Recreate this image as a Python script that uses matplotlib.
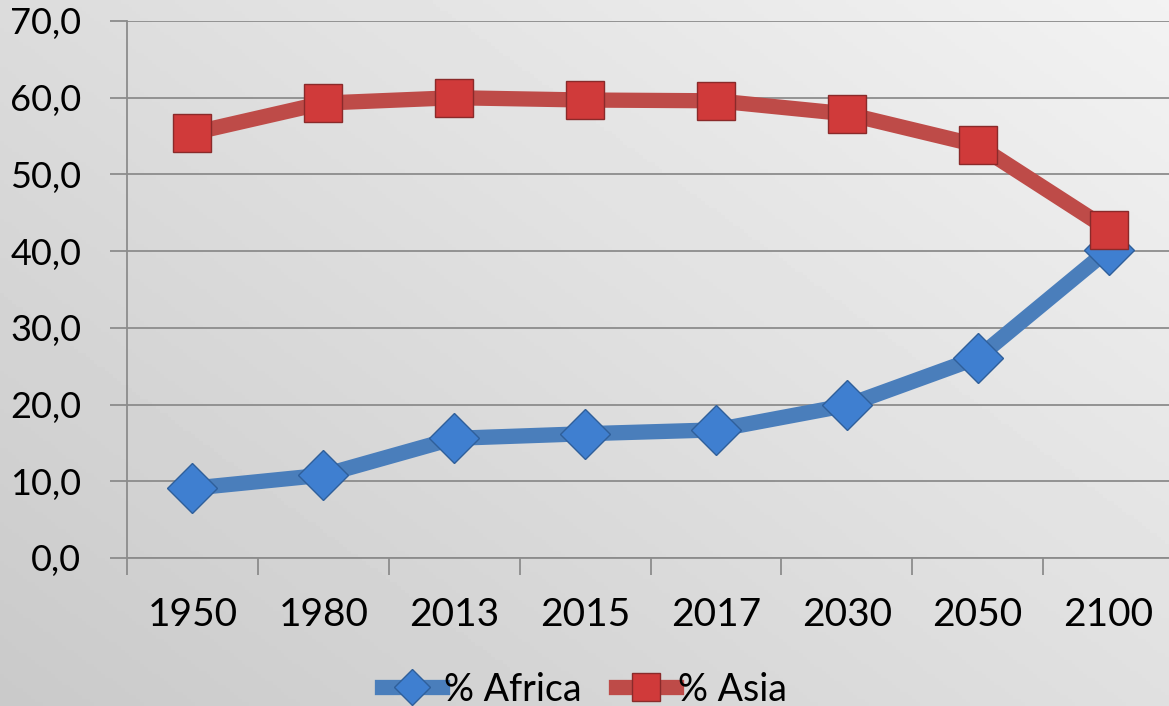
import matplotlib.pyplot as plt
import numpy as np
from matplotlib.ticker import FuncFormatter, MultipleLocator

# --- data ------------------------------------------------------------
YEARS = ["1950", "1980", "2013", "2015", "2017", "2030", "2050", "2100"]
AFRICA = [9.1, 10.8, 15.6, 16.2, 16.7, 19.9, 26.1, 40.2]
ASIA = [55.4, 59.3, 60.0, 59.7, 59.6, 57.9, 53.8, 42.8]

BLUE = "#4a7ebb"
RED = "#be4b48"

plt.rcParams["font.family"] = ["Lato", "DejaVu Sans"]

fig = plt.figure(figsize=(11.69, 7.06), dpi=100)

# grey gradient background, lighter towards the upper right
bg = fig.add_axes([0, 0, 1, 1], zorder=-10)
yy, xx = np.mgrid[0:1:200j, 0:1:300j]
shade = 0.79 + 0.16 * (0.55 * xx + 0.45 * (1 - yy))
bg.imshow(shade, cmap="gray", vmin=0, vmax=1, extent=[0, 1, 0, 1],
          aspect="auto", origin="upper")
bg.set_axis_off()

ax = fig.add_axes([127 / 1169, 1 - 558 / 706, 1047 / 1169, 537 / 706])
ax.patch.set_alpha(0)

x = np.arange(len(YEARS))
ax.plot(x, AFRICA, color=BLUE, lw=11, marker="D", markersize=25,
        markerfacecolor="#3f7fd0", markeredgecolor="#2f5f9a",
        markeredgewidth=1, label="% Africa", zorder=3)
ax.plot(x, ASIA, color=RED, lw=11, marker="s", markersize=27,
        markerfacecolor="#d03a3a", markeredgecolor="#8a2a2a",
        markeredgewidth=1, label="% Asia", zorder=4)

ax.set_xlim(-0.5, len(YEARS) - 0.5)
ax.set_ylim(0, 70)
ax.yaxis.set_major_locator(MultipleLocator(10))
ax.yaxis.set_major_formatter(FuncFormatter(lambda v, _: f"{v:.1f}".replace(".", ",")))
ax.yaxis.grid(True, color="#8c8c8c", lw=1.3)
ax.set_axisbelow(True)

ax.set_xticks(x)
ax.set_xticklabels(YEARS)
ax.set_xticks(np.arange(len(YEARS) + 1) - 0.5, minor=True)
ax.tick_params(axis="x", which="major", length=0, pad=28, labelsize=28)
ax.tick_params(axis="x", which="minor", length=12, width=1.3, color="#8c8c8c",
               direction="out")
ax.tick_params(axis="y", length=12, width=1.3, color="#8c8c8c", labelsize=26, pad=21)

for side in ["top", "right"]:
    ax.spines[side].set_visible(False)
for side in ["left", "bottom"]:
    ax.spines[side].set_color("#8c8c8c")
    ax.spines[side].set_linewidth(1.3)

leg = fig.legend(loc="lower center", bbox_to_anchor=(0.5, -0.05), ncol=2,
                 frameon=False, fontsize=27, handlelength=1.6, handletextpad=0.05,
                 columnspacing=0.9, markerscale=0.75)

fig.savefig("out.png", dpi=100)
